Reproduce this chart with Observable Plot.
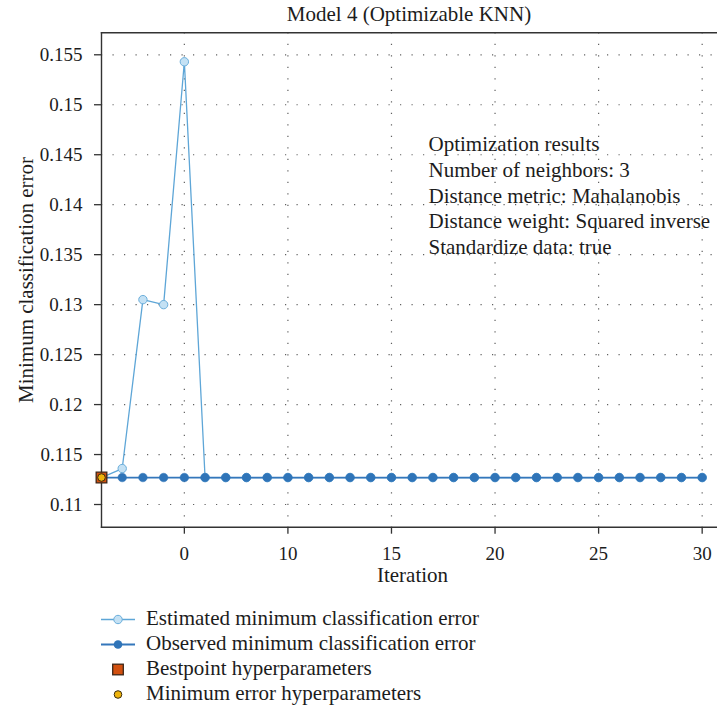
<!DOCTYPE html>
<html><head><meta charset="utf-8">
<script src="https://cdn.jsdelivr.net/npm/d3@7"></script>
<script src="https://cdn.jsdelivr.net/npm/@observablehq/plot@0.6"></script>
<style>
body{margin:0;background:#fff;font-family:"Liberation Serif",serif;color:#1c1c1c;}
#wrap{width:717px;}
#title{height:28px;line-height:28px;font-size:21px;margin-left:101px;width:616px;text-align:center;white-space:nowrap;}
#chart svg{display:block;overflow:visible;}
#legend{height:120px;padding-top:16px;box-sizing:border-box;}
.row{height:25px;line-height:25px;font-size:21px;display:flex;align-items:flex-start;white-space:nowrap;}
.row svg{margin-left:100px;width:46px;height:25px;flex:none;display:block;}
</style></head><body>
<div id="wrap"><div id="title"></div><div id="chart"></div><div id="legend"></div></div>
<script>
const iterations = [1,2,3,4,5,6,7,8,9,10,11,12,13,14,15,16,17,18,19,20,21,22,23,24,25,26,27,28,29,30];
const estimatedError = [0.1127,0.1136,0.1305,0.1300,0.1543,0.1127,0.1127,0.1127,0.1127,0.1127,0.1127,0.1127,0.1127,0.1127,0.1127,0.1127,0.1127,0.1127,0.1127,0.1127,0.1127,0.1127,0.1127,0.1127,0.1127,0.1127,0.1127,0.1127,0.1127,0.1127];
const observedError = [0.1127,0.1127,0.1127,0.1127,0.1127,0.1127,0.1127,0.1127,0.1127,0.1127,0.1127,0.1127,0.1127,0.1127,0.1127,0.1127,0.1127,0.1127,0.1127,0.1127,0.1127,0.1127,0.1127,0.1127,0.1127,0.1127,0.1127,0.1127,0.1127,0.1127];
const bestIteration = [1];
const bestError = [0.1127];
const xTickValues = [5,10,15,20,25,30];
const xTickLabels = ["0","10","15","20","25","30"];
const yTickValues = [0.11,0.115,0.12,0.125,0.13,0.135,0.14,0.145,0.15,0.155];
const titleText = "Model 4 (Optimizable KNN)";
const xLabel = "Iteration";
const yLabel = "Minimum classification error";
const annotationLines = ["Optimization results","Number of neighbors: 3","Distance metric: Mahalanobis","Distance weight: Squared inverse","Standardize data: true"];
const legendLabels = ["Estimated minimum classification error","Observed minimum classification error","Bestpoint hyperparameters","Minimum error hyperparameters"];

const C = {
  estLine:"#5ea6d7", estFill:"#c4e1f4", estStroke:"#6aaedb",
  obsLine:"#3477bb", obsFill:"#2f74b8",
  bestFill:"#d2500f", bestStroke:"#3d2617",
  minFill:"#eeb30c", minStroke:"#3a2c0e",
  axis:"#333", grid:"#3a3a3a", text:"#1c1c1c"
};

document.getElementById("title").textContent = titleText;

const est = iterations.map((x,i)=>({x, y: estimatedError[i]}));
const obs = iterations.map((x,i)=>({x, y: observedError[i]}));
const best = bestIteration.map((x,i)=>({x, y: bestError[i]}));
const dotted = {stroke:C.grid, strokeWidth:1.2, strokeOpacity:0.8, strokeDasharray:"1.2,10.3"};

const chart = Plot.plot({
  width:717, height:562,
  marginLeft:101, marginRight:0, marginTop:4.3, marginBottom:63.3,
  style:{fontFamily:"'Liberation Serif', serif", fontSize:"19px", color:C.text, background:"transparent", overflow:"visible"},
  x:{domain:[1,30.74]},
  y:{domain:[0.10773,0.1572]},
  marks:[
    Plot.gridX(xTickValues, dotted),
    Plot.gridY(yTickValues, dotted),
    Plot.frame({anchor:"top", stroke:C.axis, strokeWidth:1.4}),
    Plot.frame({anchor:"left", stroke:C.axis, strokeWidth:1.4}),
    Plot.frame({anchor:"bottom", stroke:C.axis, strokeWidth:1.4}),
    Plot.axisX(xTickValues, {tickSize:7, tickPadding:12, tickFormat:d=>xTickLabels[xTickValues.indexOf(d)], label:null, stroke:C.axis, strokeWidth:1.3, fontSize:19}),
    Plot.axisY(yTickValues, {tickSize:7, tickPadding:12, tickFormat:d=>String(d), label:null, stroke:C.axis, strokeWidth:1.3, fontSize:19}),
    Plot.line(est, {x:"x", y:"y", stroke:C.estLine, strokeWidth:1.3}),
    Plot.dot(est, {x:"x", y:"y", r:4.2, fill:C.estFill, stroke:C.estStroke, strokeWidth:1}),
    Plot.line(obs, {x:"x", y:"y", stroke:C.obsLine, strokeWidth:1.8}),
    Plot.dot(obs, {x:"x", y:"y", r:4.3, fill:C.obsFill, stroke:C.obsFill, strokeWidth:0.5}),
    Plot.dot(best, {x:"x", y:"y", symbol:"square", r:6, fill:C.bestFill, stroke:C.bestStroke, strokeWidth:1.3}),
    Plot.dot(best, {x:"x", y:"y", r:3.8, fill:C.minFill, stroke:C.minStroke, strokeWidth:1}),
    Plot.text([annotationLines.join("\n")], {text:d=>d, frameAnchor:"top-left", dx:327, dy:100.4, lineAnchor:"top", textAnchor:"start", lineHeight:1.22, fontSize:21, fill:C.text}),
    Plot.text([xLabel], {text:d=>d, frameAnchor:"bottom", dx:3, dy:48.1, lineAnchor:"middle", textAnchor:"middle", fontSize:21, fill:C.text}),
    Plot.text([yLabel], {text:d=>d, frameAnchor:"left", rotate:-90, dx:-75, lineAnchor:"middle", textAnchor:"middle", fontSize:21, fill:C.text})
  ]
});
document.getElementById("chart").appendChild(chart);

// legend
const legend = d3.select("#legend");
const symbols = [
  g => { g.append("line").attr("x1",1).attr("x2",35).attr("y1",13.5).attr("y2",13.5).attr("stroke",C.estLine).attr("stroke-width",1.3);
         g.append("circle").attr("cx",18).attr("cy",13.5).attr("r",4.2).attr("fill",C.estFill).attr("stroke",C.estStroke); },
  g => { g.append("line").attr("x1",1).attr("x2",35).attr("y1",13.5).attr("y2",13.5).attr("stroke",C.obsLine).attr("stroke-width",1.8);
         g.append("circle").attr("cx",18).attr("cy",13.5).attr("r",4.3).attr("fill",C.obsFill); },
  g => { g.append("rect").attr("x",12.7).attr("y",8.2).attr("width",10.6).attr("height",10.6).attr("fill",C.bestFill).attr("stroke",C.bestStroke).attr("stroke-width",1.3); },
  g => { g.append("circle").attr("cx",18).attr("cy",13.5).attr("r",3.8).attr("fill",C.minFill).attr("stroke",C.minStroke); }
];
legendLabels.forEach((lab,i)=>{
  const row = legend.append("div").attr("class","row");
  const s = row.append("svg").attr("viewBox","0 0 46 25");
  symbols[i](s);
  row.append("span").text(lab);
});
</script>
</body></html>
